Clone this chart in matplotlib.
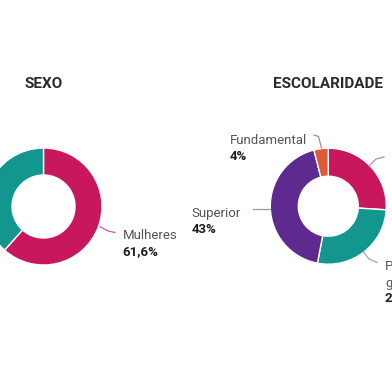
import matplotlib
matplotlib.use("Agg")
import matplotlib.pyplot as plt

# data
sexo_labels = ["Mulheres", "Homens"]
sexo_values = [61.6, 38.4]
sexo_colors = ["#c8175d", "#12968f"]

esc_labels = ["Médio", "Pós-graduação", "Superior", "Fundamental"]
esc_values = [26, 27, 43, 4]
esc_colors = ["#c8175d", "#12968f", "#5e2a8f", "#dd5a3a"]

plt.rcParams['font.family'] = ['Roboto', 'DejaVu Sans']

fig = plt.figure(figsize=(3.92, 3.92), dpi=100)
ax = fig.add_axes([0, 0, 1, 1])

# donuts (coordinates in pixels, y up)
ax.pie(sexo_values, colors=sexo_colors, startangle=90, counterclock=False,
       center=(43.5, 185.5), radius=58.5,
       wedgeprops=dict(width=27, edgecolor="white", linewidth=1))
ax.pie(esc_values, colors=esc_colors, startangle=90, counterclock=False,
       center=(328.3, 185.8), radius=58,
       wedgeprops=dict(width=28, edgecolor="white", linewidth=1))

ax.set_xlim(0, 392)
ax.set_ylim(0, 392)
ax.set_aspect("equal")
ax.axis("off")

# titles
ax.text(43.5, 308, "SEXO", ha="center", va="center", fontsize=11,
        fontweight="bold", color="#2b2b2b")
ax.text(328.3, 308, "ESCOLARIDADE", ha="center", va="center", fontsize=11,
        fontweight="bold", color="#2b2b2b")

lab = dict(fontsize=9.5, color="#555555", ha="left", va="center")
pct = dict(fontsize=9.5, color="#1e1e1e", ha="left", va="center", fontweight="bold")

# leader lines
ax.plot([100, 108, 115], [165.3, 161, 159.5], color=sexo_colors[0], lw=0.9, alpha=0.7)
ax.plot([314, 318.5, 321.5], [257, 255.5, 244], color="#a0705f", lw=0.9, alpha=0.8)
ax.plot([252.7, 270], [183, 183], color="#8a7a95", lw=0.9, alpha=0.8)
ax.plot([363.3, 369, 377], [140.3, 133, 129.5], color="#7a9a98", lw=0.9, alpha=0.8)
ax.plot([370, 376, 384], [227, 233, 235], color="#a07085", lw=0.9, alpha=0.8)

# labels
ax.text(122.7, 156.3, sexo_labels[0], **lab)
ax.text(122.7, 140.3, f"{sexo_values[0]:.1f}%".replace(".", ","), **pct)

ax.text(230, 252, esc_labels[3], **lab)
ax.text(230, 235.3, f"{esc_values[3]}%", **pct)

ax.text(191.7, 178.7, esc_labels[2], **lab)
ax.text(191.7, 162.7, f"{esc_values[2]}%", **pct)

# this label runs off the right edge in the reference too
ax.text(385, 125.3, "Pós-", **lab)
ax.text(385, 109, "graduação", **lab)
ax.text(385, 94, f"{esc_values[1]}%", **pct)

fig.savefig("out.png", dpi=100, facecolor="white")
